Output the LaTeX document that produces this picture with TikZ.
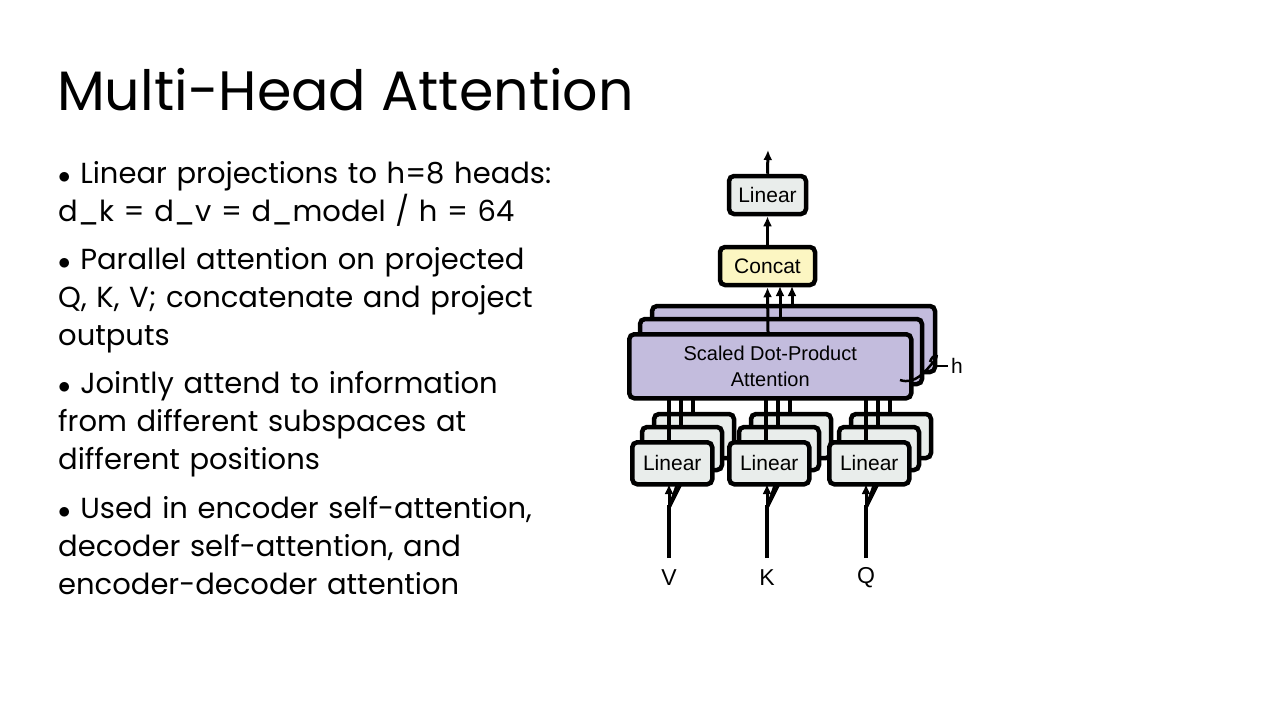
\documentclass[tikz,border=0pt]{standalone}
\usepackage{fontspec}
\setmainfont{Poppins}
\newfontfamily\diag{Liberation Sans}
\usetikzlibrary{arrows.meta}
\definecolor{lin}{HTML}{E9EDEB}
\definecolor{cc}{HTML}{FCF6C2}
\definecolor{sd}{HTML}{C3BCDD}
\begin{document}
\begin{tikzpicture}[x=1pt,y=-1pt,
  bx/.style={draw=black,line width=4.5pt,rounded corners=5pt},
  ln/.style={line width=4pt},
  ar/.style={line width=3pt,-{Latex[length=10pt,width=9pt]}},
  dt/.style={font=\diag\fontsize{21}{24}\selectfont},
  bt/.style={anchor=north west,align=left,font=\fontsize{29}{38}\selectfont,text width=560pt,inner sep=0pt}]
\useasboundingbox (0,0) rectangle (1280,720);
\node[anchor=west,inner sep=0pt,font=\fontsize{55.5}{60}\selectfont] (title) at (57,90) {Multi-Head Attention};
\node[bt] (b1) at (58,161) {$\bullet$ Linear projections to h=8 heads:\\d\_k = d\_v = d\_model / h = 64};
\node[bt] (b2) at (58,247) {$\bullet$ Parallel attention on projected\\Q, K, V; concatenate and project\\outputs};
\node[bt] (b3) at (58,371) {$\bullet$ Jointly attend to information\\from different subspaces at\\different positions};
\node[bt] (b4) at (58,496) {$\bullet$ Used in encoder self-attention,\\decoder self-attention, and\\encoder-decoder attention};
% input lines
\foreach \x/\l/\n in {669/V/v,767/K/k,866/Q/q}{
  \node[dt,font=\diag\fontsize{23}{24}\selectfont] (\n) at (\x,578) {\l};
  \coordinate (\n b) at (\x,558);
  \coordinate (\n t) at (\x,484);
  \draw[ln] (\n b) -- (\x,505);
  \draw[ar] (\x,508) -- (\n t);
  \draw[ar] (\x,508) -- (\x+12,474);
  \draw[ar] (\x,508) -- (\x+22,464);
}
% linear stacks
\foreach \x/\n in {630/l1,727/l2,827/l3}{
  \draw[bx,fill=lin] (\x+24,414) rectangle (\x+104,458);
  \draw[bx,fill=lin] (\x+12,427) rectangle (\x+92,470);
  \draw[ln] (\x+39,398) -- (\x+39,440);
  \draw[ln] (\x+51,398) -- (\x+51,427);
  \draw[ln] (\x+63,398) -- (\x+63,414);
  \node[bx,fill=lin,dt,minimum width=80pt,minimum height=42pt,anchor=north west,inner sep=0pt] (\n) at (\x,440) {Linear};
}
% SDPA stack
\draw[bx,fill=sd] (652,306) rectangle (935,372);
\draw[bx,fill=sd] (640,319) rectangle (922,384);
\draw[ar] (792,306) -- (792,286);
\draw[ar] (780,319) -- (780,286);
\node[bx,fill=sd,dt,align=center,minimum width=282pt,minimum height=64pt,anchor=north west,inner sep=0pt,font=\diag\fontsize{20}{26}\selectfont] (sdpa) at (627,332) {Scaled Dot-Product\\Attention};
\node[bx,fill=cc,dt,minimum width=95pt,minimum height=38pt,inner sep=0pt] (cat) at (767.5,266) {Concat};
\node[bx,fill=lin,dt,minimum width=77pt,minimum height=38pt,inner sep=0pt] (lt) at (767.5,195) {Linear};
\draw[ar] (768,332) -- (cat.south);
\draw[ar] (cat.north) -- (lt.south);
\coordinate (out) at (768,150);
\draw[ar] (lt.north) -- (out);
% h
\node[dt] (h) at (957,366) {h};
\draw[line width=2.5pt] (900,380) .. controls (915,385) and (925,372) .. (935,360) .. controls (940,352) and (932,355) .. (930,362);
\draw[line width=2.5pt] (934,366) -- (h.west);
\end{tikzpicture}
\end{document}
